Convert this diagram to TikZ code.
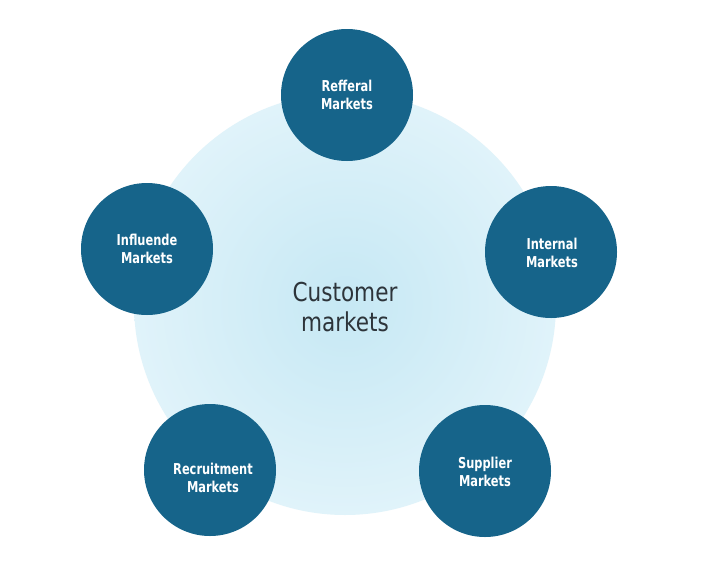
\documentclass[tikz,border=0pt]{standalone}
\usepackage{fontspec}
\newfontfamily\mainlab[FakeStretch=0.83]{DejaVu Sans}
\newfontfamily\smalllab[FakeStretch=0.76]{DejaVu Sans Bold}
\definecolor{darkblue}{RGB}{22,100,138}
\definecolor{paleinner}{RGB}{198,232,244}
\definecolor{paleouter}{RGB}{224,243,250}
\definecolor{centertext}{RGB}{45,52,58}
\tikzset{
  market/.style={circle, fill=darkblue, draw=none, minimum size=132pt, inner sep=0pt},
  marketlabel/.style={text=white, align=center, font=\smalllab\fontsize{15}{18}\selectfont, inner sep=0pt},
}
\begin{document}
\begin{tikzpicture}[x=1pt,y=-1pt]
\useasboundingbox (0,0) rectangle (720,576);
\fill[white] (0,0) rectangle (720,576);
\shade[inner color=paleinner, outer color=paleouter] (345,304) circle (211);
\node[align=center, text=centertext, font=\mainlab\fontsize{26}{30}\selectfont, inner sep=0pt] (cm) at (345,307) {Customer\\markets};
\node[market] (ref) at (347,95) {};
\node[market] (int) at (551,252) {};
\node[market] (sup) at (485,471) {};
\node[market] (rec) at (210,470) {};
\node[market] (inf) at (147,249) {};
\node[marketlabel] (reft) at (347,95) {Refferal\\Markets};
\node[marketlabel] (intt) at (552,253) {Internal\\Markets};
\node[marketlabel] (supt) at (485,472) {Supplier\\Markets};
\node[marketlabel] (rect) at (213,478) {Recruitment\\Markets};
\node[marketlabel] (inft) at (147,249) {Influende\\Markets};
\end{tikzpicture}
\end{document}
